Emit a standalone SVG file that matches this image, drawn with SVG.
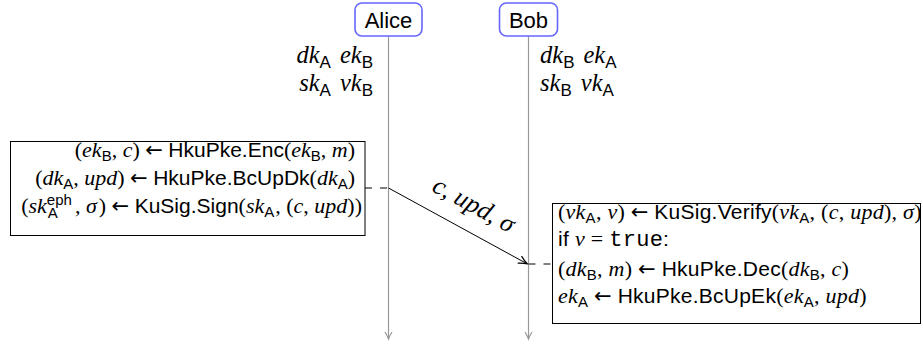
<svg xmlns="http://www.w3.org/2000/svg" width="923" height="344" viewBox="0 0 923 344">
<style>
.t{font-family:"Liberation Serif",serif;font-size:22px;fill:#000}
.k{font-family:"Liberation Serif",serif;font-size:24.5px;fill:#000}
.i{font-style:italic}
.sf{font-family:"Liberation Sans",sans-serif;font-size:21px}
.sb{font-family:"Liberation Sans",sans-serif;font-size:15px}
.sbk{font-family:"Liberation Sans",sans-serif;font-size:17px}
.tt{font-family:"Liberation Mono",monospace}
.ar{font-family:"DejaVu Sans",sans-serif;font-size:21px}
.ls{letter-spacing:0.25px}
.name{font-family:"Liberation Sans",sans-serif;font-size:22px;fill:#000;text-anchor:middle}
.actor{fill:#fff;stroke:#6666ff;stroke-width:1.6}
.life{stroke:#999;stroke-width:1.2;fill:none}
.box{fill:#fff;stroke:#000;stroke-width:1}
.dash{stroke:#000;stroke-width:1;stroke-dasharray:7 8;fill:none}
</style>
<defs>
<marker id="ga" markerWidth="10" markerHeight="10" refX="8" refY="5" orient="auto" markerUnits="userSpaceOnUse">
<path d="M1,1.5 Q5,4 8,5 Q5,6 1,8.5" fill="none" stroke="#999" stroke-width="1.2"/>
</marker>
<marker id="ba" markerWidth="12" markerHeight="12" refX="10" refY="6" orient="auto" markerUnits="userSpaceOnUse">
<path d="M1,2 Q6,5 10,6 Q6,7 1,10" fill="none" stroke="#000" stroke-width="1.2"/>
</marker>
</defs>

<g id="connectors">
<line class="life" x1="388.5" y1="36" x2="388.5" y2="339" marker-end="url(#ga)"/>
<line class="life" x1="528.5" y1="36" x2="528.5" y2="339" marker-end="url(#ga)"/>
<line class="dash" x1="365" y1="188" x2="388.5" y2="188"/>
<line class="dash" x1="528.5" y1="264" x2="552.5" y2="264"/>
<line x1="388.5" y1="188" x2="527.5" y2="264" stroke="#000" stroke-width="1" marker-end="url(#ba)"/>
<text class="k i" transform="translate(470,212) rotate(28.7)" text-anchor="middle" style="font-size:26px">c, upd, σ</text>
</g>

<g id="alice">
<rect class="actor" x="355" y="3" width="67" height="33" rx="7"/>
<text class="name" x="388.5" y="28">Alice</text>
</g>

<g id="bob">
<rect class="actor" x="499.5" y="3" width="58" height="33" rx="7"/>
<text class="name" x="528.5" y="28">Bob</text>
</g>

<g id="alice-keys">
<text class="k" x="373" y="63" text-anchor="end"><tspan class="i">dk</tspan><tspan class="sbk" dy="5">A</tspan><tspan class="i" dx="9" dy="-5">ek</tspan><tspan class="sbk" dy="5">B</tspan></text>
<text class="k" x="373" y="91" text-anchor="end"><tspan class="i">sk</tspan><tspan class="sbk" dy="5">A</tspan><tspan class="i" dx="9" dy="-5">vk</tspan><tspan class="sbk" dy="5">B</tspan></text>
</g>

<g id="bob-keys">
<text class="k" x="540" y="63"><tspan class="i">dk</tspan><tspan class="sbk" dy="5">B</tspan><tspan class="i" dx="9" dy="-5">ek</tspan><tspan class="sbk" dy="5">A</tspan></text>
<text class="k" x="540" y="91"><tspan class="i">sk</tspan><tspan class="sbk" dy="5">B</tspan><tspan class="i" dx="9" dy="-5">vk</tspan><tspan class="sbk" dy="5">A</tspan></text>
</g>

<g id="alice-box">
<rect class="box" x="10.5" y="141.5" width="354.5" height="94"/>
<text class="t" x="355" y="157" text-anchor="end">(<tspan class="i">ek</tspan><tspan class="sb" dy="4">B</tspan><tspan dy="-4">, </tspan><tspan class="i">c</tspan>) <tspan class="ar">←</tspan> <tspan class="sf">HkuPke.Enc</tspan>(<tspan class="i">ek</tspan><tspan class="sb" dy="4">B</tspan><tspan dy="-4">, </tspan><tspan class="i">m</tspan>)</text>
<text class="t" x="355" y="185" text-anchor="end">(<tspan class="i">dk</tspan><tspan class="sb" dy="4">A</tspan><tspan dy="-4">, </tspan><tspan class="i">upd</tspan>) <tspan class="ar">←</tspan> <tspan class="sf">HkuPke.BcUpDk</tspan>(<tspan class="i">dk</tspan><tspan class="sb" dy="4">A</tspan><tspan dy="-4">)</tspan></text>
<text class="t" x="362" y="213" text-anchor="end">(<tspan class="i">sk</tspan><tspan class="sb" dy="-8">eph</tspan><tspan class="sb" dx="-24" dy="13">A</tspan><tspan dx="17" dy="-5">, </tspan><tspan class="i">σ</tspan><tspan dx="2">)</tspan> <tspan class="ar">←</tspan> <tspan class="sf">KuSig.Sign</tspan>(<tspan class="i">sk</tspan><tspan class="sb" dy="4">A</tspan><tspan dy="-4" dx="1">, (</tspan><tspan class="i">c</tspan>, <tspan class="i">upd</tspan>))</text>
</g>

<g id="bob-box">
<rect class="box" x="552.5" y="203.5" width="368" height="120"/>
<text class="t ls" x="558" y="219">(<tspan class="i">vk</tspan><tspan class="sb" dy="4">A</tspan><tspan dy="-4">, </tspan><tspan class="i">v</tspan>) <tspan class="ar">←</tspan> <tspan class="sf">KuSig.Verify</tspan>(<tspan class="i">vk</tspan><tspan class="sb" dy="4">A</tspan><tspan dy="-4">, (</tspan><tspan class="i">c</tspan>, <tspan class="i">upd</tspan>), <tspan class="i">σ</tspan>)</text>
<text class="t ls" x="558" y="246"><tspan class="sf">if </tspan><tspan class="i">v</tspan> = <tspan class="tt">true</tspan><tspan class="sf">:</tspan></text>
<text class="t ls" x="558" y="276">(<tspan class="i">dk</tspan><tspan class="sb" dy="4">B</tspan><tspan dy="-4">, </tspan><tspan class="i">m</tspan>) <tspan class="ar">←</tspan> <tspan class="sf">HkuPke.Dec</tspan>(<tspan class="i">dk</tspan><tspan class="sb" dy="4">B</tspan><tspan dy="-4">, </tspan><tspan class="i">c</tspan>)</text>
<text class="t ls" x="558" y="303"><tspan class="i">ek</tspan><tspan class="sb" dy="4">A</tspan><tspan dy="-4"> </tspan><tspan class="ar">←</tspan> <tspan class="sf">HkuPke.BcUpEk</tspan>(<tspan class="i">ek</tspan><tspan class="sb" dy="4">A</tspan><tspan dy="-4">, </tspan><tspan class="i">upd</tspan>)</text>
</g>
</svg>
